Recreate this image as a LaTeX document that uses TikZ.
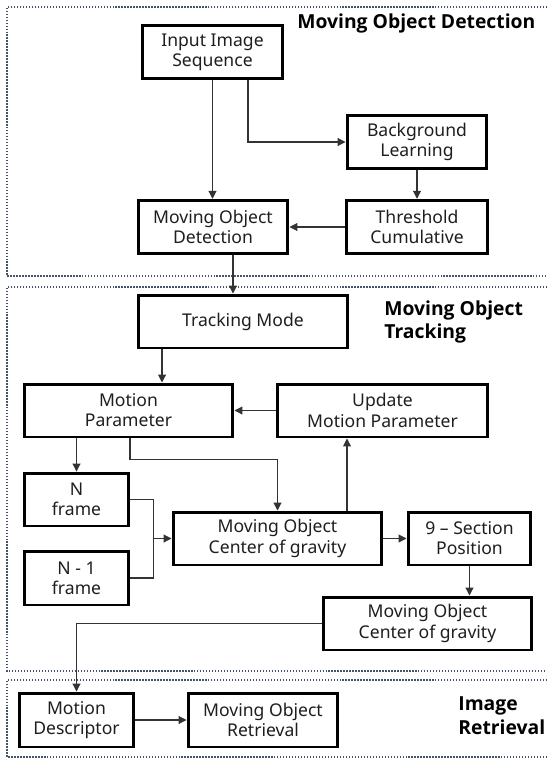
\documentclass[tikz,border=0pt]{standalone}
\usepackage{fontspec}
\setmainfont{Noto Sans}
\newfontfamily\titlefont{Open Sans}
\usetikzlibrary{arrows.meta,calc}
\definecolor{frameblue}{HTML}{44546A}
\definecolor{txt}{HTML}{1E1E1E}
\begin{document}
\begin{tikzpicture}[x=0.02cm,y=-0.02cm,
  box/.style={draw=black, line width=1.7pt, align=center, inner sep=0pt,
    font=\fontsize{10}{11.5}\selectfont, text=txt, minimum height=1.07cm},
  arr/.style={draw=black!80, line width=0.6pt, -{Triangle[length=4.5pt,width=4.5pt]}},
  ln/.style={draw=black!80, line width=0.6pt},
  framebox/.style={draw=frameblue, line width=1.3pt, dash pattern=on 0.8pt off 0.9pt},
  title/.style={font=\titlefont\bfseries\fontsize{11}{13.6}\selectfont, align=left, inner sep=0pt, text=black}
]
\useasboundingbox (0,0) rectangle (547,758);

% frames
\draw[framebox] (547,7) -- (7,7) -- (7,276) -- (547,276);
\draw[framebox] (547,287) -- (7,287) -- (7,671) -- (547,671);
\draw[framebox] (547,680) -- (7,680) -- (7,757) -- (547,757);

% titles
\node[title, anchor=west] (t1) at (297,23) {Moving Object Detection};
\node[title, anchor=north west] (t2) at (384,300) {Moving Object\\Tracking};
\node[title, anchor=north west] (t3) at (458,696) {Image\\Retrieval};

% boxes
\node[box, minimum width=2.82cm] (inp) at (212.5,52) {Input Image\\Sequence};
\node[box, minimum width=2.80cm] (bl) at (417,142) {Background\\Learning};
\node[box, minimum width=3.00cm] (mod) at (213,227) {Moving Object\\Detection};
\node[box, minimum width=2.84cm] (tc) at (417,227) {Threshold\\Cumulative};
\node[box, minimum width=4.20cm, minimum height=1.06cm] (tm) at (243,321.5) {Tracking Mode};
\node[box, minimum width=4.18cm, minimum height=1.06cm] (mp) at (128.5,410.5) {Motion\\Parameter};
\node[box, minimum width=4.22cm, minimum height=1.06cm] (ump) at (382.5,410.5) {Update\\Motion Parameter};
\node[box, minimum width=2.10cm, minimum height=1.06cm] (nf) at (76.5,499.5) {N\\frame};
\node[box, minimum width=2.10cm, minimum height=1.08cm] (n1f) at (76.5,578) {N - 1\\frame};
\node[box, minimum width=4.18cm, minimum height=1.06cm] (cg1) at (277.5,538.5) {Moving Object\\Center of gravity};
\node[box, minimum width=2.46cm, minimum height=1.06cm] (sec) at (469.5,538.5) {9 – Section\\Position};
\node[box, minimum width=4.18cm, minimum height=1.06cm] (cg2) at (427.5,623.5) {Moving Object\\Center of gravity};
\node[box, minimum width=2.30cm, minimum height=1.08cm] (md) at (76.5,720) {Motion\\Descriptor};
\node[box, minimum width=3.00cm, minimum height=1.08cm] (mor) at (263,720) {Moving Object\\Retrieval};

% helper coordinates
\coordinate (c1) at ([xshift=0.71cm]inp.south);
\coordinate (c2) at ([xshift=0.40cm]mod.south);
\coordinate (c3) at ([xshift=-1.62cm]tm.south);
\coordinate (c4) at ([xshift=0.03cm]mp.south);
\coordinate (c5) at ([xshift=-0.71cm]ump.south);
\coordinate (c6) at ([xshift=0.46cm]nf.east);

% connectors
\draw[arr] (inp.south) -- (inp.south |- mod.north);
\draw[arr] (c1) |- (bl.west);
\draw[arr] (bl.south) -- (tc.north);
\draw[arr] (tc.west) -- (mod.east);
\draw[arr] (c2) -- (c2 |- tm.north);
\draw[arr] (c3) -- (c3 |- mp.north);
\draw[arr] (ump.west) -- (mp.east);
\draw[arr] (nf.north |- mp.south) -- (nf.north);
\draw[arr] (c4) -- ++(0,21) -| (cg1.north);
\draw[arr] (c5 |- cg1.north) -- (c5);
\draw[ln] (nf.east) -- (c6) |- (n1f.east);
\draw[arr] (c6 |- cg1.west) -- (cg1.west);
\draw[arr] (cg1.east) -- (sec.west);
\draw[arr] (sec.south) -- (sec.south |- cg2.north);
\draw[arr] (cg2.west) -| (md.north);
\draw[arr] (md.east) -- (mor.west);
\end{tikzpicture}
\end{document}
